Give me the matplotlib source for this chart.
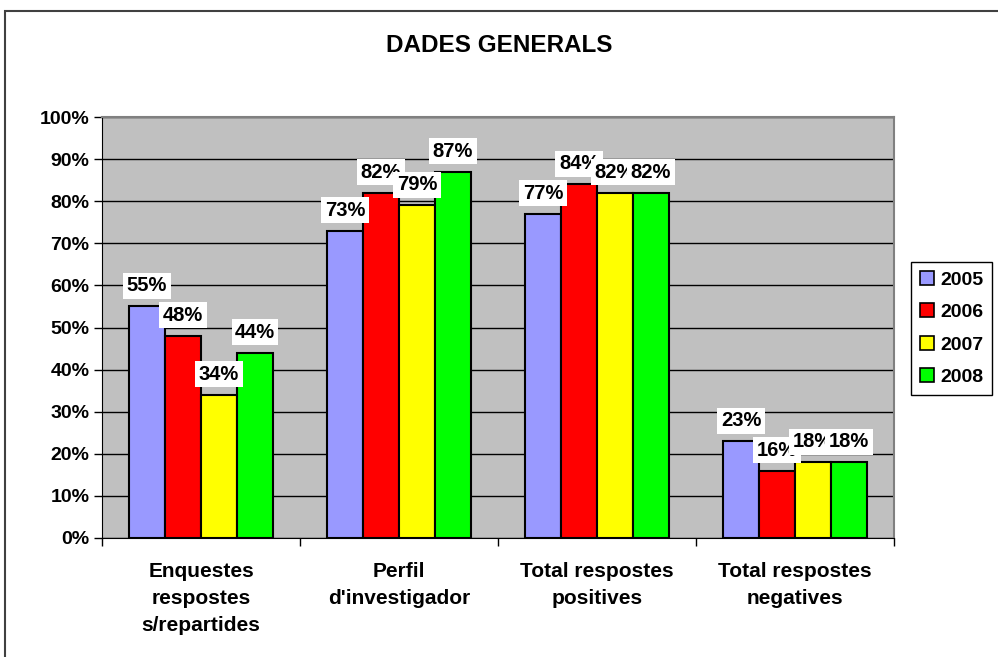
import numpy as np
import matplotlib.pyplot as plt
from matplotlib.patches import Rectangle, Patch

# data
categories = ['Enquestes\nrespostes\ns/repartides', "Perfil\nd'investigador",
              'Total respostes\npositives', 'Total respostes\nnegatives']
years = ['2005', '2006', '2007', '2008']
v2005 = [55, 73, 77, 23]
v2006 = [48, 82, 84, 16]
v2007 = [34, 79, 82, 18]
v2008 = [44, 87, 82, 18]
colors = ['#9999FF', '#FF0000', '#FFFF00', '#00FF00']

plt.rcParams['font.family'] = ['Liberation Sans', 'DejaVu Sans']
plt.rcParams['font.weight'] = 'bold'

W, H = 998, 657
fig = plt.figure(figsize=(W / 100, H / 100), dpi=100)
fig.patch.set_facecolor('white')

# outer chart frame (only top/left visible in the reference)
fig.patches.append(Rectangle((5 / W, -0.1), 1.2, 1 - 11 / H + 0.1, transform=fig.transFigure,
                             fill=False, ec='#404040', lw=1.5))

ax = fig.add_axes([102 / W, 1 - 538 / H, (894 - 102) / W, (538 - 117) / H])
ax.set_facecolor('#C0C0C0')

x = np.arange(len(categories))
w = 36 / 198
series = [v2005, v2006, v2007, v2008]
for i, (vals, c) in enumerate(zip(series, colors)):
    xs = x + (i - 1.5) * w
    ax.bar(xs, vals, width=w, color=c, edgecolor='black', linewidth=1.5, zorder=3)
    for xi, v in zip(xs, vals):
        ax.annotate(f'{v}%', (xi, v), xytext=(0, 15), textcoords='offset pixels',
                    ha='center', va='baseline', fontsize=14.5, fontweight='bold', zorder=5,
                    bbox=dict(fc='white', ec='none', pad=2.5))

ax.set_xlim(-0.5, 3.5)
ax.set_ylim(0, 100)
ax.set_yticks(range(0, 101, 10))
ax.set_yticklabels([f'{t}%' for t in range(0, 101, 10)], fontsize=14, fontweight='bold')
ax.yaxis.grid(True, color='black', lw=1, zorder=1)
ax.tick_params(axis='y', length=6, width=1, pad=3)

ax.set_xticks([-0.5, 0.5, 1.5, 2.5, 3.5])
ax.set_xticklabels([])
ax.tick_params(axis='x', which='major', length=6, width=1, colors='black')
ax.set_xticks(x, minor=True)
ax.set_xticklabels(categories, minor=True, fontsize=15, fontweight='bold', linespacing=1.55)
ax.tick_params(axis='x', which='minor', length=0, pad=17)

for s in ['top', 'right']:
    ax.spines[s].set_color('#808080')
    ax.spines[s].set_linewidth(1.5)
ax.spines['left'].set_color('black')
ax.spines['bottom'].set_color('black')

fig.text(0.5, 1 - 46 / H, 'DADES GENERALS', ha='center', va='center',
         fontsize=17.5, fontweight='bold')

handles = [Patch(fc=c, ec='black', lw=1.2) for c in colors]
leg = fig.legend(handles, years, loc='upper left', bbox_to_anchor=(911 / W, 1 - 262 / H),
                 fancybox=False, framealpha=1, edgecolor='black', fontsize=14,
                 handlelength=0.75, handleheight=0.75, handletextpad=0.3,
                 labelspacing=0.75, borderpad=0.45, borderaxespad=0)
leg.get_frame().set_linewidth(1)
for t in leg.get_texts():
    t.set_fontweight('bold')

fig.savefig('out.png', dpi=100)
